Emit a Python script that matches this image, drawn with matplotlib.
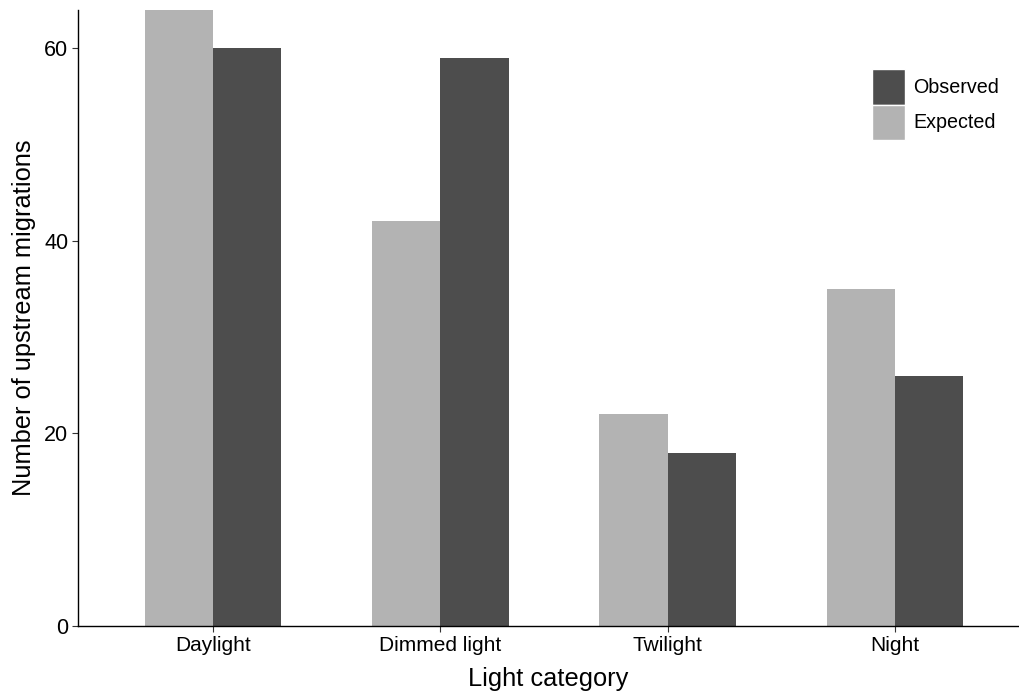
import numpy as np
import matplotlib.pyplot as plt

plt.rcParams['font.family'] = ['Liberation Sans', 'DejaVu Sans']

# light categories and migration counts
categories = ["Daylight", "Dimmed light", "Twilight", "Night"]
expected = [64, 42, 22, 35]
observed = [60, 59, 18, 26]

col_exp = "#b3b3b3"
col_obs = "#4d4d4d"

fig = plt.figure(figsize=(10.19, 6.93), dpi=100)
ax = fig.add_axes([78 / 1019, 67 / 693, 940 / 1019, 616.5 / 693])

x = np.arange(1, len(categories) + 1)
w = 0.3
ax.bar(x - w / 2, expected, width=w, color=col_exp, label="Expected")
ax.bar(x + w / 2, observed, width=w, color=col_obs, label="Observed")

ax.set_xlim(0.406, 4.541)
ax.set_ylim(0, 64)
ax.set_xticks(x)
ax.set_xticklabels(categories, fontsize=15)
ax.set_yticks([0, 20, 40, 60])
ax.tick_params(axis="y", labelsize=15.5, length=4, width=0.8, color="#333333", pad=3)
ax.tick_params(axis="x", length=4, width=0.8, color="#333333", pad=3)

for s in ["top", "right"]:
    ax.spines[s].set_visible(False)
for s in ["left", "bottom"]:
    ax.spines[s].set_linewidth(1.0)

ax.set_xlabel("Light category", fontsize=18.3, labelpad=9)
ax.set_ylabel("Number of upstream migrations", fontsize=18.3, labelpad=6)

# legend with observed on top
h, l = ax.get_legend_handles_labels()
leg = fig.legend(h[::-1], l[::-1], loc="upper left",
                 bbox_to_anchor=(872 / 1019, 1 - 69 / 693),
                 frameon=False, fontsize=14.2, handlelength=1.65, handleheight=2.4,
                 handletextpad=0.45, labelspacing=0.0, borderpad=0, borderaxespad=0)
for p in leg.get_patches():
    p.set_edgecolor("white")
    p.set_linewidth(1)

fig.savefig("out.png", dpi=100)
